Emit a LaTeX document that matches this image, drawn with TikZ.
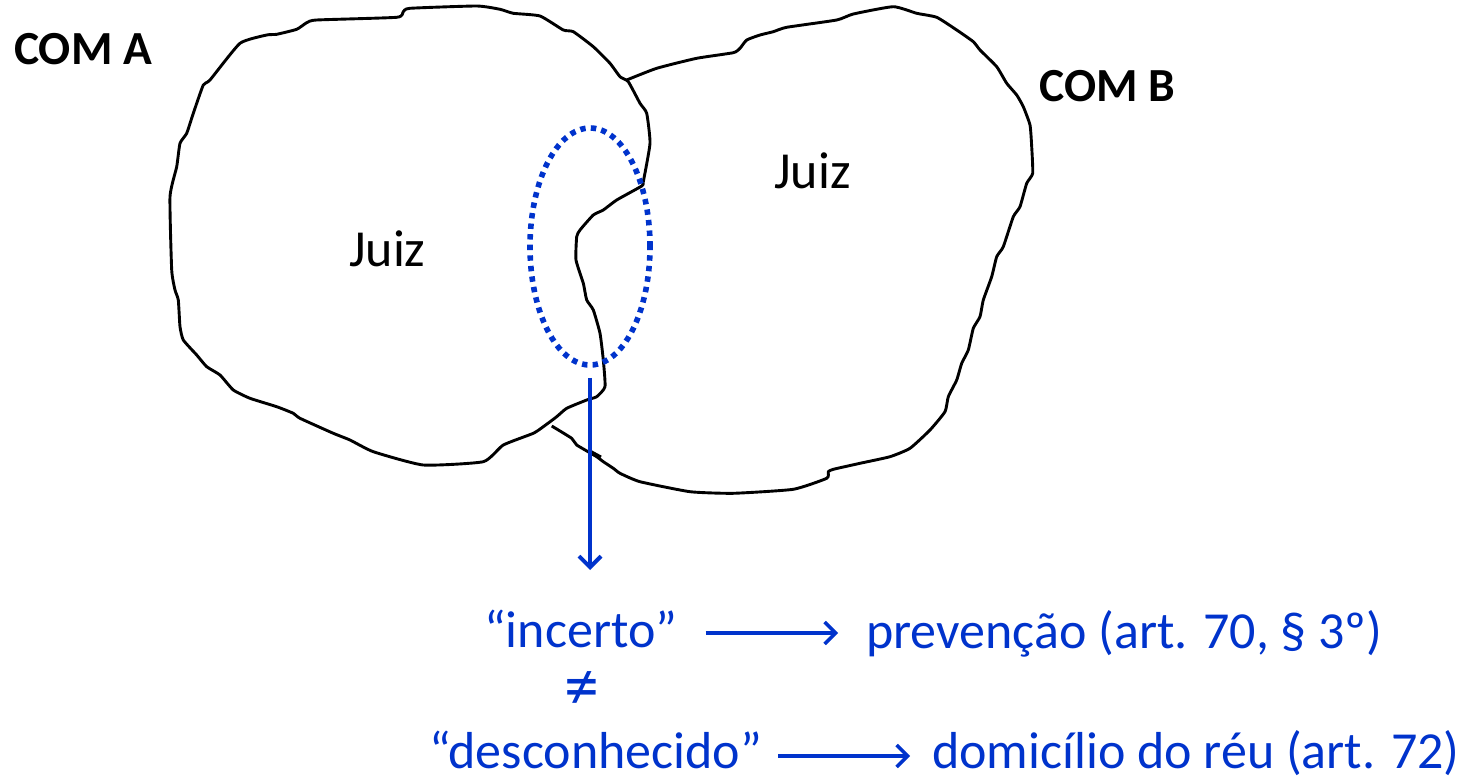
\documentclass[tikz,border=0pt]{standalone}
\usepackage{fontspec}
\setmainfont{Carlito}
\usetikzlibrary{shapes.geometric,arrows.meta}
\definecolor{myblue}{RGB}{0,51,204}
\tikzset{
  outline/.style={draw=black,line width=2.9pt,line join=round},
  bluetxt/.style={text=myblue,font=\fontsize{52}{60}\selectfont,inner sep=0pt,anchor=base west},
  blackbold/.style={font=\fontsize{47.5}{52}\selectfont\bfseries,inner sep=0pt,anchor=base west},
  juiz/.style={font=\fontsize{52}{60}\selectfont,inner sep=0pt,anchor=base west},
  bluearrow/.style={draw=myblue,line width=3.5pt,-{Straight Barb[length=11pt,width=22pt,line width=3.5pt]}},
  downarrow/.style={draw=myblue,line width=4pt,-{Straight Barb[length=11pt,width=22pt,line width=4pt]}},
  dotellipse/.style={ellipse,draw=myblue,line width=5.6pt,dash pattern=on 5.4pt off 5.2pt,inner sep=0pt}
}
\begin{document}
\begin{tikzpicture}[x=1pt,y=-1pt]
\useasboundingbox (0,0) rectangle (1473,781);
% blob A
\draw[outline] plot[smooth cycle,tension=0.3] coordinates{
(306.7,22.7)(316.7,20)(396.7,17.3)(403.3,11.7)(410,8.3)(476.7,6)(500,9.3)(513.3,13.3)(540,16)
(563.3,30)(573.3,31.7)(593.3,46.7)(610,63.3)(620,76.7)(628.3,81.7)(640,103.3)(646.7,113.3)
(650,143.3)(643.3,181.7)(641.7,186)(616.7,200)(603.3,210)(593.3,215)(580,230)(576.7,236.7)
(576,260)(583.3,283.3)(586.7,300)(593.3,310)(600,333.3)(603.3,360)(605,386.7)(596.7,396.7)
(586.7,400)(566.7,408.3)(556.7,416.7)(543.3,426.7)(533.3,433.3)(503.3,445)(483.3,461.7)
(423.3,465)(373.3,451.7)(350,440)(333.3,433.3)(300,418.3)(293.3,413.3)(276.7,406.7)(250,398.3)
(233.3,390)(220,375)(206.7,366.7)(196.7,355)(183.3,340)(180,326.7)(178.3,300)(175,290)
(171.7,270)(170,196.7)(176.7,166.7)(180,143.3)(186.7,133.3)(193.3,113.3)(203.3,85)(210,80)
(240,43.3)(266.7,35)(276.7,34.3)(296.7,29.3)};
% blob B (open)
\draw[outline] plot[smooth,tension=0.3] coordinates{
(626.7,80)(656.7,68.3)(696.7,58.3)(733.3,52.7)(740,48.3)(746.7,40)(760,35)(773.3,31.7)
(786.7,27.3)(836.7,20)(853.3,14)(893.3,6.7)(916.7,13.3)(936.7,17.3)(956.7,30)(973.3,41.7)
(980,50)(996.7,66.7)(1006.7,83.3)(1016.7,95)(1023.3,106.7)(1030,125)(1031.7,146.7)
(1032.7,173.3)(1026.7,183.3)(1020,206.7)(1013.3,216.7)(1003.3,246.7)(996.7,256.7)
(991.7,276.7)(983.3,300)(980,316.7)(973.3,328.3)(968.3,350)(961.7,363.3)(956.7,380)
(948.3,396.7)(945,411.7)(930,430)(910,448.3)(890,456.7)(860,463.3)(833.3,469.3)(828.3,471.7)
(826.7,478.3)(793.3,489.3)(733.3,493.3)(690,491.7)(640,481.7)(620,473.3)(613.3,468.3)
(603.3,461.7)(596.7,456.7)(576.7,445)(571.7,438.3)(551.7,426)};
\draw[outline] (590,451) -- (601,457);
% labels
\node[blackbold] (comA) at (14,65) {COM A};
\node[blackbold] (comB) at (1039,102) {COM B};
\node[juiz] (juizA) at (349,266) {Juiz};
\node[juiz] (juizB) at (774,189) {Juiz};
% ellipse and arrow
\node[dotellipse,minimum width=120pt,minimum height=237pt] (ell) at (590,246.5) {};
\coordinate (arrEnd) at (590,570);
\draw[downarrow,shorten <=10pt] (ell.south) -- (arrEnd);
% bottom texts
\node[bluetxt] (inc) at (484,647) {“incerto”};
\node[bluetxt] (prev) at (866,648) {prevenção (art. 70, § 3º)};
\node[bluetxt,anchor=base,font=\fontsize{70}{76}\selectfont,text height=30pt,text depth=0pt] (neq) at (582,709) {≠};
\node[bluetxt] (desc) at (429,768) {“desconhecido”};
\node[bluetxt] (dom) at (932,768) {domicílio do réu (art. 72)};
\draw[bluearrow] ([xshift=28pt,yshift=14pt]inc.base east) -- ([xshift=-28pt,yshift=15pt]prev.base west);
\draw[bluearrow] ([xshift=16pt,yshift=12pt]desc.base east) -- ([xshift=-22pt,yshift=12pt]dom.base west);
\end{tikzpicture}
\end{document}
